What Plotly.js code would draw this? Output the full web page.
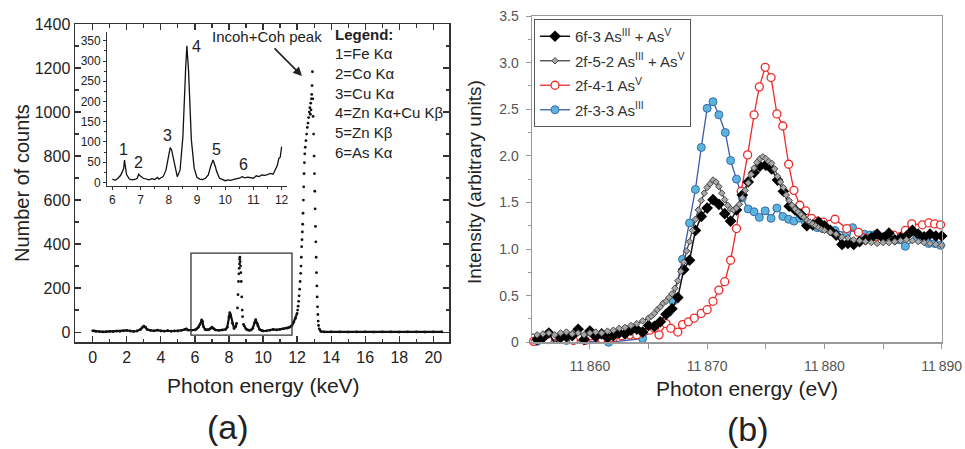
<!DOCTYPE html>
<html><head><meta charset="utf-8">
<script src="https://cdn.plot.ly/plotly-3.0.1.min.js"></script>
<style>html,body{margin:0;padding:0;background:#fff}#chart{width:965px;height:449px}</style>
</head><body><div id="chart"></div>
<script>
// ---------- Panel (a): main XRF spectrum ----------
const specSeg1X = [0.0,0.1,0.2,0.4,0.6,0.8,1.0,1.2,1.4,1.6,1.8,2.0,2.2,2.4,2.6,2.8,2.9,3.0,3.1,3.2,3.4,3.6,3.8,4.0,4.2,4.4,4.6,4.8,5.0,5.2,5.4,5.5,5.6,5.8,6.0,6.1,6.2,6.3,6.4,6.45,6.5,6.6,6.7,6.8,6.9,7.0,7.1,7.2,7.4,7.6,7.8,7.9,8.0,8.05,8.1,8.2,8.3,8.4,8.45];
const specSeg1Y = [6,5,3,2,1,2,3,2,4,3,6,8,5,3,5,12,20,27,22,12,8,6,9,5,4,7,4,5,5,8,12,14,9,8,10,14,22,35,55,48,25,12,10,11,15,22,16,10,8,9,12,22,70,88,78,40,16,25,40];
const specPeak4X = [8.5,8.53,8.56,8.58,8.6,8.62,8.63,8.64,8.66,8.68,8.7,8.72,8.75,8.78,8.8,8.85];
const specPeak4Y = [110,170,230,265,290,310,330,340,320,300,270,230,160,100,70,35];
const specSeg2X = [8.9,9.0,9.1,9.2,9.3,9.4,9.5,9.57,9.65,9.7,9.8,9.9,10.0,10.2,10.4,10.6,10.8,11.0,11.2,11.4,11.5,11.6,11.7,11.8,11.9,12.0];
const specSeg2Y = [28,14,10,8,10,18,42,56,40,28,12,8,5,6,8,12,10,12,15,18,20,24,30,45,62,85];
const specIncohX = [12.03,12.06,12.09,12.12,12.15,12.18,12.21,12.23,12.25,12.27,12.29,12.31,12.33,12.35,12.37,12.39,12.41,12.43,12.45,12.48,12.52,12.56,12.6,12.64,12.68,12.72,12.75,12.78,12.8,12.82,12.84,12.86,12.88,12.9,12.92,12.94,12.97,13.0,13.02,13.04,13.06,13.08,13.1,13.12,13.14,13.16,13.18,13.2,13.22,13.24,13.26];
const specIncohY = [100,118,140,165,195,230,267,300,340,388,420,455,490,540,600,660,720,770,810,840,870,900,930,950,975,1000,1020,990,1040,1010,1060,1080,1120,1183,1060,980,900,800,720,640,560,480,410,340,270,210,160,115,80,50,30];
const specSeg3X = [13.3,13.4,13.6,14.0,14.5,15.0,15.5,16.0,16.5,17.0,17.5,18.0,18.5,19.0,19.5,20.0,20.5];
const specSeg3Y = [15,3,1,1,1,0,1,1,0,1,1,0,1,1,0,1,1];

// ---------- Panel (a): inset 6-12 keV ----------
const insetX = [6.0,6.1,6.2,6.3,6.35,6.4,6.43,6.46,6.5,6.6,6.7,6.8,6.88,6.93,6.97,7.0,7.1,7.2,7.3,7.4,7.5,7.6,7.65,7.7,7.8,7.9,8.0,8.05,8.1,8.2,8.3,8.4,8.5,8.6,8.64,8.7,8.8,8.9,9.0,9.1,9.2,9.3,9.4,9.5,9.57,9.65,9.7,9.8,9.9,10.0,10.1,10.2,10.3,10.4,10.5,10.6,10.7,10.8,10.9,11.0,11.1,11.2,11.3,11.4,11.5,11.6,11.7,11.8,11.85,11.9,11.95,12.0];
const insetY = [8,5,10,18,26,34,55,40,20,8,6,7,10,20,16,15,10,8,6,9,7,12,8,10,14,30,72,86,80,43,14,30,113,286,338,277,105,35,12,8,7,10,18,43,55,39,26,10,6,4,6,5,7,8,10,14,11,13,12,10,16,14,18,17,19,22,20,34,42,59,62,88];
const insetPeakLabels = ["1","2","3","4","5","6"];
const insetPeakLabelX = [6.38,6.91,7.96,8.99,9.68,10.64];
const insetPeakLabelY = [82,50,117,336,80,45];
const legendALines = ["1=Fe K\u03b1","2=Co K\u03b1","3=Cu K\u03b1","4=Zn K\u03b1+Cu K\u03b2","5=Zn K\u03b2","6=As K\u03b1"];

// ---------- Panel (b): XANES ----------
const blackX = [11855,11855.5,11856,11856.5,11857,11857.5,11858,11858.5,11859,11859.5,11860,11860.5,11861,11861.5,11862,11862.5,11863,11863.5,11864,11864.5,11865,11865.5,11866,11866.5,11867,11867.5,11868,11868.5,11869,11869.5,11870,11870.5,11871,11871.5,11872,11872.5,11873,11873.5,11874,11874.5,11875,11875.5,11876,11876.5,11877,11877.5,11878,11878.5,11879,11879.5,11880,11880.5,11881,11881.5,11882,11882.5,11883,11883.5,11884,11884.5,11885,11885.5,11886,11886.5,11887,11887.5,11888,11888.5,11889,11889.5,11890];
const blackY = [-0.04,0.03,0.05,0.10,-0.01,0.05,0.06,0.07,0.14,0.03,0.12,0.06,0.09,0.05,0.07,0.10,0.09,0.13,0.14,0.11,0.18,0.17,0.22,0.30,0.36,0.48,0.78,0.88,1.20,1.35,1.44,1.53,1.48,1.38,1.30,1.42,1.58,1.72,1.82,1.89,1.90,1.86,1.74,1.62,1.46,1.42,1.37,1.25,1.26,1.29,1.25,1.20,1.15,1.05,1.06,1.05,1.08,1.10,1.12,1.16,1.12,1.17,1.10,1.12,1.14,1.20,1.16,1.13,1.16,1.14,1.14];
const grayX = [11855,11855.5,11856,11856.5,11857,11857.5,11858,11858.5,11859,11859.5,11860,11860.5,11861,11861.5,11862,11862.5,11863,11863.5,11864,11864.5,11865,
 11865.25,11865.5,11865.75,11866,11866.25,11866.5,11866.75,11867,11867.25,11867.5,11867.75,11868,11868.25,11868.5,11868.75,11869,11869.25,11869.5,11869.75,11870,11870.25,11870.5,11870.75,11871,11871.25,11871.5,11871.75,11872,11872.25,11872.5,11872.75,11873,11873.25,11873.5,11873.75,11874,11874.25,11874.5,11874.75,11875,11875.25,11875.5,11875.75,11876,11876.25,11876.5,11876.75,11877,11877.25,11877.5,11877.75,11878,11878.25,11878.5,11878.75,11879,11879.25,11879.5,11879.75,11880,
 11880.5,11881,11881.5,11882,11882.5,11883,11883.5,11884,11884.5,11885,11885.5,11886,11886.5,11887,11887.5,11888,11888.5,11889,11889.5,11890];
const grayY = [0.09,0.08,0.09,0.10,0.08,0.10,0.11,0.09,0.10,0.08,0.10,0.11,0.10,0.12,0.13,0.15,0.16,0.18,0.20,0.23,0.26,
 0.28,0.31,0.35,0.38,0.42,0.44,0.48,0.52,0.58,0.66,0.76,0.86,0.98,1.08,1.20,1.32,1.42,1.52,1.60,1.66,1.70,1.74,1.72,1.67,1.60,1.53,1.47,1.43,1.42,1.44,1.48,1.55,1.63,1.71,1.80,1.87,1.93,1.97,1.99,1.97,1.94,1.92,1.86,1.78,1.72,1.66,1.58,1.52,1.47,1.43,1.40,1.37,1.34,1.31,1.29,1.27,1.25,1.23,1.21,1.20,
 1.18,1.16,1.13,1.12,1.10,1.09,1.08,1.07,1.06,1.07,1.07,1.08,1.09,1.10,1.09,1.08,1.07,1.06,1.05,1.04];
const redX = [11855.2,11856.4,11857.7,11858.6,11859.6,11861.0,11862.0,11862.7,11863.4,11864.0,11864.5,11865.1,11865.5,11865.9,11866.5,11866.9,11867.5,11867.9,11868.4,11868.9,11869.5,11870.0,11870.5,11871.0,11871.5,11872.0,11872.5,11872.9,11873.45,11874.0,11874.45,11874.95,11875.45,11875.95,11876.45,11876.95,11877.4,11877.9,11878.4,11878.9,11879.4,11879.9,11880.9,11881.9,11882.9,11884.4,11885.9,11886.9,11887.45,11888.35,11888.9,11889.4,11889.9];
const redY = [0.01,0.03,0.03,0.02,0.02,0.04,0.05,0.07,0.08,0.08,0.11,0.13,0.15,0.08,0.20,0.15,0.11,0.19,0.22,0.26,0.31,0.35,0.44,0.56,0.65,0.88,1.22,1.62,2.01,2.44,2.74,2.95,2.84,2.45,2.32,1.91,1.63,1.47,1.41,1.33,1.30,1.29,1.32,1.22,1.18,1.13,1.15,1.20,1.27,1.26,1.28,1.27,1.26];
const blueX = [11855.5,11858.0,11861.6,11864.5,11866.7,11867.1,11867.9,11868.5,11869.0,11869.5,11870.0,11870.5,11871.0,11871.55,11872.0,11872.5,11873.0,11873.5,11874.0,11874.45,11874.95,11875.45,11875.95,11876.45,11876.95,11877.4,11877.9,11878.4,11878.9,11879.4,11879.9,11880.9,11881.9,11882.4,11882.9,11883.4,11883.9,11884.4,11885.4,11886.4,11886.9,11887.9,11888.4,11888.9,11889.4,11889.9];
const blueY = [0.01,0.02,0.00,0.04,0.32,0.44,0.89,1.28,1.64,2.09,2.51,2.58,2.44,2.25,1.95,1.75,1.55,1.43,1.40,1.34,1.41,1.33,1.44,1.35,1.32,1.30,1.33,1.28,1.27,1.23,1.22,1.20,1.17,1.23,1.18,1.16,1.15,1.16,1.13,1.10,1.03,1.12,1.10,1.06,1.06,1.04];
const seriesNames = ["6f-3 As<sup>III</sup> + As<sup>V</sup>","2f-5-2 As<sup>III</sup> + As<sup>V</sup>","2f-4-1 As<sup>V</sup>","2f-3-3 As<sup>III</sup>"];
const xanesTickVals = [11860,11870,11880,11890];
const xanesTickText = ["11\u2009860","11\u2009870","11\u2009880","11\u2009890"];
const xanesMinorVals = [11855,11865,11875,11885];
const intensityTickVals = [0,0.5,1,1.5,2,2.5,3,3.5];
const intensityTickText = ["0","0.5","1.0","1.5","2.0","2.5","3.0","3.5"];

// ---------- layout helpers ----------
const W = 965, H = 449;
const px = x => x / W;
const py = y => 1 - y / H;
const FONT = "Liberation Sans, Arial, Helvetica, sans-serif";

const baseX = specSeg1X.concat([null], specSeg2X, [null], specSeg3X);
const baseY = specSeg1Y.concat([null], specSeg2Y, [null], specSeg3Y);
const dotX = specPeak4X.concat(specIncohX);
const dotY = specPeak4Y.concat(specIncohY);

const traces = [
  {x: baseX, y: baseY, xaxis: 'x', yaxis: 'y', mode: 'lines+markers', connectgaps: false,
   line: {color: '#111', width: 2.2}, marker: {color: '#111', size: 2.8}, showlegend: false, hoverinfo: 'skip'},
  {x: dotX, y: dotY, xaxis: 'x', yaxis: 'y', mode: 'markers',
   marker: {color: '#111', size: 2.8}, showlegend: false, hoverinfo: 'skip'},
  {x: insetX, y: insetY, xaxis: 'x2', yaxis: 'y2', mode: 'lines',
   line: {color: '#111', width: 1.3}, showlegend: false, hoverinfo: 'skip'},
  {x: blueX, y: blueY, xaxis: 'x3', yaxis: 'y3', mode: 'lines+markers', name: seriesNames[3], legendrank: 4, legendgroup: 'd',
   line: {color: '#3b5ba8', width: 1.3}, marker: {symbol: 'circle', size: 8, color: '#5ab4de', line: {color: '#3a6aa8', width: 1}}, cliponaxis: false},
  {x: redX, y: redY, xaxis: 'x3', yaxis: 'y3', mode: 'lines+markers', name: seriesNames[2], legendrank: 3, legendgroup: 'c',
   line: {color: '#ee2a2a', width: 1.3}, marker: {symbol: 'circle', size: 8, color: '#ffffff', line: {color: '#ee2a2a', width: 1.3}}, cliponaxis: false},
  {x: blackX, y: blackY, xaxis: 'x3', yaxis: 'y3', mode: 'lines+markers', name: seriesNames[0], legendrank: 1, legendgroup: 'a',
   line: {color: '#111', width: 1.5}, marker: {symbol: 'diamond', size: 9, color: '#000'}, cliponaxis: false},
  {x: grayX, y: grayY, xaxis: 'x3', yaxis: 'y3', mode: 'lines+markers', name: seriesNames[1], legendrank: 2, legendgroup: 'b',
   line: {color: '#444', width: 1.3}, marker: {symbol: 'diamond', size: 5, color: '#a8a8a8', line: {color: '#4a4a4a', width: 1}}, cliponaxis: false}
];

const mainAxis = {
  showline: true, mirror: 'ticks', linecolor: '#333', linewidth: 1.5,
  ticks: 'inside', ticklen: 6, tickwidth: 1.2, tickcolor: '#333',
  showgrid: false, zeroline: false,
  tickfont: {family: FONT, size: 16, color: '#222'}
};

function note(text, x, y, size, extra) {
  return Object.assign({text: text, x: px(x), y: py(y), xref: 'paper', yref: 'paper', xanchor: 'center', yanchor: 'middle',
    showarrow: false, font: {family: FONT, size: size, color: '#222'}}, extra || {});
}

const annotations = [
  note('Number of counts', 22, 183, 20, {textangle: -90}),
  note('Photon energy (keV)', 263, 385, 21),
  note('(a)', 228, 427, 34),
  note('Intensity (arbitrary units)', 474, 182, 19, {textangle: -90}),
  note('Photon energy (eV)', 747, 388, 21),
  note('(b)', 748, 429, 34),
  note('Incoh+Coh peak', 267, 36, 15),
  {text: '', x: 12.29, y: 1164, xref: 'x', yref: 'y', showarrow: true, ax: -29, ay: -29, arrowhead: 2, arrowsize: 1.1, arrowwidth: 1.6, arrowcolor: '#222'},
  note('<b>Legend:</b>', 333, 35, 15, {xanchor: 'left'})
];
const legY = [54, 73, 93, 113, 132, 152];
legendALines.forEach((t, i) => annotations.push(note(t, 333, legY[i], 15, {xanchor: 'left'})));
insetPeakLabels.forEach((t, i) => annotations.push({text: t, x: insetPeakLabelX[i], y: insetPeakLabelY[i], xref: 'x2', yref: 'y2',
  xanchor: 'center', yanchor: 'middle', showarrow: false, font: {family: FONT, size: 16, color: '#222'}}));

const layout = {
  width: W, height: H, margin: {l: 0, r: 0, t: 0, b: 0},
  paper_bgcolor: '#fff', plot_bgcolor: 'rgba(0,0,0,0)',
  font: {family: FONT},
  xaxis: Object.assign({}, mainAxis, {domain: [px(75), px(449)], range: [-1.04, 20.92], anchor: 'y', dtick: 2, tick0: 0,
    minor: {dtick: 1, ticks: 'inside', ticklen: 3.5, tickcolor: '#333'}}),
  yaxis: Object.assign({}, mainAxis, {domain: [py(342), py(24)], range: [-45, 1400], anchor: 'x', dtick: 200, tick0: 0,
    minor: {dtick: 100, ticks: 'inside', ticklen: 3.5, tickcolor: '#333'}}),
  xaxis2: {domain: [px(107.3), px(286.7)], anchor: 'y2', range: [5.82, 12.18], showline: true, linecolor: '#333', linewidth: 1.2,
    ticks: 'outside', ticklen: 3, tickcolor: '#333', dtick: 1, tick0: 6, showgrid: false, zeroline: false,
    minor: {dtick: 0.5, ticks: 'outside', ticklen: 2, tickcolor: '#333'},
    tickfont: {family: FONT, size: 12, color: '#222'}},
  yaxis2: {domain: [py(185.7), py(31.7)], anchor: 'x2', range: [-8.4, 372.7], showline: true, linecolor: '#333', linewidth: 1.2,
    ticks: 'outside', ticklen: 3, tickcolor: '#333', dtick: 50, tick0: 0, showgrid: false, zeroline: false,
    minor: {dtick: 25, ticks: 'outside', ticklen: 2, tickcolor: '#333'},
    tickfont: {family: FONT, size: 12, color: '#222'}},
  xaxis3: {domain: [px(531.7), px(941.7)], anchor: 'y3', range: [11855.04, 11890], showline: true, mirror: true, linecolor: '#999', linewidth: 1.2,
    ticks: 'outside', ticklen: 5, tickcolor: '#999', tickmode: 'array', tickvals: xanesTickVals, ticktext: xanesTickText, ticklabelstandoff: 6,
    minor: {tickmode: 'array', tickvals: xanesMinorVals, ticks: 'outside', ticklen: 5, tickcolor: '#999'},
    showgrid: false, zeroline: false, tickfont: {family: FONT, size: 14, color: '#555'}},
  yaxis3: {domain: [py(342.3), py(16)], anchor: 'x3', range: [0, 3.5], showline: true, mirror: true, linecolor: '#999', linewidth: 1.2,
    ticks: 'outside', ticklen: 5, tickcolor: '#999', tickmode: 'array', tickvals: intensityTickVals, ticktext: intensityTickText, ticklabelstandoff: 4,
    minor: {dtick: 0.25, ticks: 'outside', ticklen: 3, tickcolor: '#999'},
    showgrid: false, zeroline: false, tickfont: {family: FONT, size: 14, color: '#555'}},
  legend: {x: px(534), y: py(19), xanchor: 'left', yanchor: 'top', bgcolor: '#fff', bordercolor: '#555', borderwidth: 1,
    font: {family: FONT, size: 15, color: '#333'}, traceorder: 'grouped', tracegroupgap: 2},
  shapes: [
    {type: 'rect', xref: 'x', yref: 'y', x0: 5.77, x1: 11.7, y0: -14, y1: 359, line: {color: '#333', width: 1.3}}
  ],
  annotations: annotations
};

Plotly.newPlot('chart', traces, layout, {displayModeBar: false, staticPlot: true});
</script>
</body></html>
